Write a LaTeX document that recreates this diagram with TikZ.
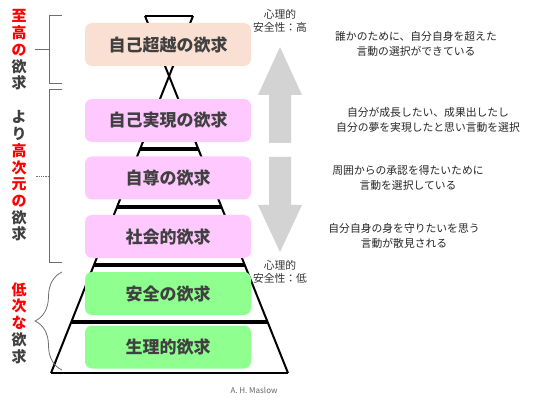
\documentclass[tikz,border=0pt]{standalone}
\usepackage{fontspec}
\setmainfont{Noto Sans CJK JP}
\usepackage{tikz}
\usetikzlibrary{calc, decorations.pathreplacing}
\definecolor{NeedGray}{RGB}{64,64,64}
\definecolor{NeedRed}{RGB}{255,0,0}
\definecolor{PeachFill}{RGB}{250,224,210}
\definecolor{PinkFill}{RGB}{255,200,255}
\definecolor{GreenFill}{RGB}{143,255,143}
\definecolor{ArrowGray}{RGB}{211,211,211}
\definecolor{BrkGray}{RGB}{110,110,110}

\begin{document}
\begin{tikzpicture}[x=1pt, y=-1pt,
	nd/.style={rounded corners=7pt, minimum width=166pt, minimum height=43pt, inner sep=0pt,
		font=\fontsize{17}{20}\selectfont\bfseries, text=NeedGray},
	side/.style={align=center, font=\fontsize{15}{16.7}\selectfont\bfseries, text=NeedGray, inner sep=0pt},
	note/.style={align=center, font=\fontsize{10.8}{15}\selectfont, text=black!85, inner sep=0pt},
	ps/.style={align=center, font=\fontsize{10.8}{12.5}\selectfont, text=black!80, inner sep=0pt},
	brk/.style={BrkGray, line width=0.8pt},
	pyr/.style={line width=2pt, black},
	bar/.style={line width=3.5pt, black}]
	\useasboundingbox (0,0) rectangle (540,403);
	% pyramid
	\coordinate (tl) at (145,16);  \coordinate (tr) at (193,16);
	\coordinate (bl) at (51,373);  \coordinate (br) at (288,373);
	\draw[pyr] (tl)--(br); \draw[pyr] (tr)--(bl);
	\draw[pyr] (tl)--(tr); \draw[pyr, line width=2.6pt] (bl)--(br);
	\foreach \t in {0.3725, 0.535, 0.6975, 0.857}
		\draw[bar] ($(tr)!\t!(bl)$)--($(tl)!\t!(br)$);
	% needs
	\node[nd, fill=PeachFill] (n6) at (168,44.5) {自己超越の欲求};
	\node[nd, fill=PinkFill] (n5) at (168,120.5) {自己実現の欲求};
	\node[nd, fill=PinkFill] (n4) at (168,178) {自尊の欲求};
	\node[nd, fill=PinkFill] (n3) at (168,236.5) {社会的欲求};
	\node[nd, fill=GreenFill] (n2) at (168,293.5) {安全の欲求};
	\node[nd, fill=GreenFill] (n1) at (168,347) {生理的欲求};
	% left labels
	\node[side] (top) at (19,50) {\textcolor{NeedRed}{至}\\\textcolor{NeedRed}{高}\\\textcolor{NeedRed}{の}\\欲\\求};
	\node[side] (mid) at (19,176) {よ\\り\\\textcolor{NeedRed}{高}\\\textcolor{NeedRed}{次}\\\textcolor{NeedRed}{元}\\\textcolor{NeedRed}{の}\\欲\\求};
	\node[side] (low) at (19,323) {\textcolor{NeedRed}{低}\\\textcolor{NeedRed}{次}\\\textcolor{NeedRed}{な}\\欲\\求};
	\draw[brk] (62,15) -- (49,15) -- (49,83) -- (62,83); \draw[brk] (49,49) -- (35,49);
	\draw[brk] (62,89) -- (49,89) -- (49,262) -- (62,262); \draw[brk, densely dotted] (49,176) -- (35,176);
	\draw[brk, decorate, decoration={brace, amplitude=27pt}] (62,370) -- (62,272);
	% safety arrows
	\fill[ArrowGray] (280,47) -- (302,95) -- (291,95) -- (291,143) -- (269,143) -- (269,95) -- (258,95) -- cycle;
	\fill[ArrowGray] (280,252) -- (302,205) -- (291,205) -- (291,157) -- (269,157) -- (269,205) -- (258,205) -- cycle;
	\node[ps] (hi) at (280,21) {心理的\\安全性：高};
	\node[ps] (lo) at (280,272) {心理的\\安全性：低};
	% notes
	\node[note] (t6) at (416,43.5) {誰かのために、自分自身を超えた\\言動の選択ができている};
	\node[note] (t5) at (428,119.5) {自分が成長したい、成果出したし\\自分の夢を実現したと思い言動を選択};
	\node[note] (t4) at (408,178) {周囲からの承認を得たいために\\言動を選択している};
	\node[note] (t3) at (404,235.5) {自分自身の身を守りたいを思う\\言動が散見される};
	\node[font=\fontsize{8}{9}\selectfont, text=black!60] (src) at (254,390) {A. H. Maslow};
\end{tikzpicture}
\end{document}
